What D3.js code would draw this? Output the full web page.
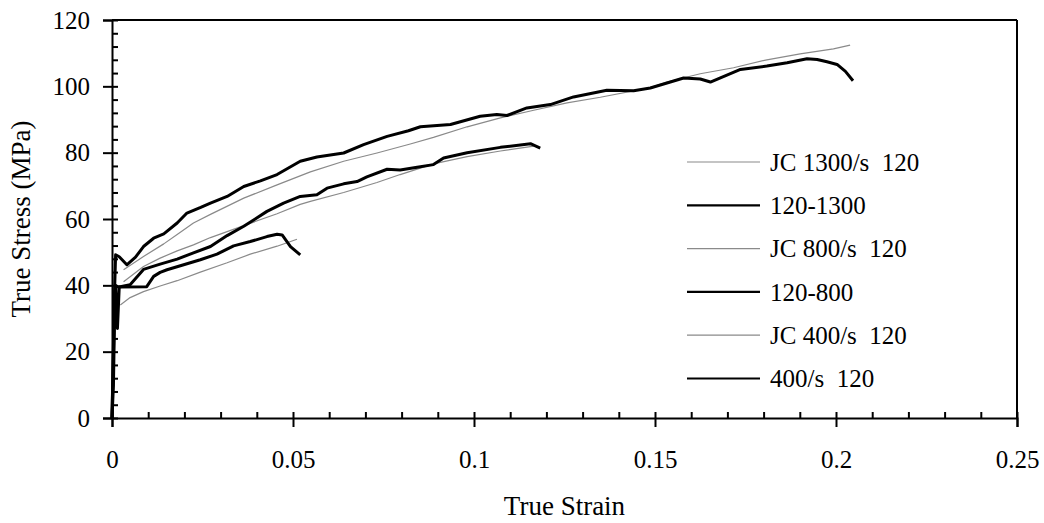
<!DOCTYPE html>
<html>
<head>
<meta charset="utf-8">
<script src="https://cdn.jsdelivr.net/npm/d3@7"></script>
<style>
  html, body { margin: 0; padding: 0; background: #fff; }
  svg text { font-family: "Liberation Serif", "Times New Roman", serif; fill: #000; }
</style>
</head>
<body>
<svg id="chart" width="1044" height="523"></svg>
<script>
// ---------- data ----------
const xTicks = [0, 0.05, 0.1, 0.15, 0.2, 0.25];
const xTickLabels = ["0", "0.05", "0.1", "0.15", "0.2", "0.25"];
const yTicks = [0, 20, 40, 60, 80, 100, 120];

const exp1300Strain = [0, 0.0004, 0.0007, 0.001, 0.002, 0.0041, 0.0065, 0.0087, 0.0115, 0.0143, 0.018, 0.0207, 0.0245, 0.0272, 0.0318, 0.0364, 0.041, 0.0456, 0.052, 0.0566, 0.064, 0.0695, 0.076, 0.0819, 0.0852, 0.0935, 0.1017, 0.1063, 0.1091, 0.1146, 0.1211, 0.1275, 0.1367, 0.1441, 0.1487, 0.1579, 0.1625, 0.1653, 0.1736, 0.1809, 0.1865, 0.192, 0.1948, 0.1975, 0.2003, 0.2026, 0.2047];
const exp1300Stress = [0, 22, 38, 49.2, 48.6, 46.2, 48.5, 51.7, 54.2, 55.5, 58.8, 61.8, 63.5, 64.8, 66.8, 69.8, 71.5, 73.4, 77.4, 78.7, 79.9, 82.4, 84.9, 86.6, 87.8, 88.5, 91, 91.5, 91.2, 93.5, 94.5, 96.8, 98.8, 98.7, 99.5, 102.5, 102.2, 101.3, 105.1, 106.1, 107.1, 108.3, 108.1, 107.4, 106.6, 104.5, 101.7];

const jc1300Strain = [0.0032, 0.0087, 0.0143, 0.018, 0.0225, 0.0272, 0.0364, 0.0456, 0.0548, 0.064, 0.0732, 0.0824, 0.0888, 0.0981, 0.1073, 0.1165, 0.1257, 0.1349, 0.1487, 0.1533, 0.1625, 0.1717, 0.1809, 0.1901, 0.1993, 0.2039];
const jc1300Stress = [44.7, 48.7, 52.5, 55.3, 58.8, 61.4, 66.3, 70.3, 74.2, 77.4, 79.9, 82.6, 84.6, 87.8, 90.5, 92.8, 95.0, 96.7, 99.6, 101.3, 103.8, 105.6, 108.0, 109.8, 111.3, 112.4];

const exp800Strain = [0, 0.0005, 0.0009, 0.0023, 0.005, 0.0087, 0.0133, 0.018, 0.0225, 0.0272, 0.0318, 0.0364, 0.0428, 0.0474, 0.052, 0.0566, 0.0594, 0.064, 0.0677, 0.0704, 0.076, 0.0796, 0.0843, 0.0888, 0.0916, 0.0981, 0.1073, 0.1156, 0.1183];
const exp800Stress = [0, 25, 39.6, 39.6, 40.2, 44.8, 46.4, 47.9, 49.8, 51.7, 55.0, 57.8, 62.3, 64.8, 66.8, 67.3, 69.3, 70.6, 71.3, 72.7, 75.0, 74.8, 75.6, 76.4, 78.4, 80.0, 81.6, 82.7, 81.4];

const jc800Strain = [0.0032, 0.0087, 0.0133, 0.018, 0.0225, 0.0272, 0.0364, 0.0456, 0.052, 0.0548, 0.064, 0.0732, 0.0796, 0.0888, 0.0981, 0.1073, 0.1165];
const jc800Stress = [41.1, 45.7, 48.2, 50.4, 52.2, 54.4, 58.0, 61.6, 64.4, 65.3, 68.0, 71.0, 73.4, 76.6, 78.8, 80.5, 82.0];

const exp400Strain = [0, 0.0004, 0.0007, 0.001, 0.0015, 0.002, 0.0096, 0.0115, 0.0133, 0.0152, 0.0198, 0.0244, 0.029, 0.0336, 0.0382, 0.0428, 0.0456, 0.047, 0.0493, 0.052];
const exp400Stress = [0, 10, 30, 40, 27, 39.5, 39.6, 42.7, 43.9, 44.7, 46.2, 47.7, 49.4, 51.9, 53.2, 54.7, 55.4, 55.2, 51.7, 49.2];

const jc400Strain = [0.0023, 0.005, 0.0087, 0.0133, 0.018, 0.0244, 0.0318, 0.0382, 0.0456, 0.0511];
const jc400Stress = [34.1, 36.3, 38.1, 39.8, 41.4, 44.0, 46.8, 49.4, 51.8, 53.9];

const seriesNames = ["JC 1300/s  120", "120-1300", "JC 800/s  120", "120-800", "JC 400/s  120", "400/s  120"];
const seriesKinds = ["model", "exp", "model", "exp", "model", "exp"];
const seriesStrain = [jc1300Strain, exp1300Strain, jc800Strain, exp800Strain, jc400Strain, exp400Strain];
const seriesStress = [jc1300Stress, exp1300Stress, jc800Stress, exp800Stress, jc400Stress, exp400Stress];

// ---------- layout ----------
const svg = d3.select("#chart");
const mLeft = 112, mRight = 1017, mTop = 20, mBottom = 418;
const x = d3.scaleLinear().domain([0, 0.25]).range([mLeft, mRight]);
const y = d3.scaleLinear().domain([0, 120]).range([mBottom, mTop]);
const FONT = 25, TITLE_FONT = 27;

const styleMap = {
  model: { stroke: "#8a8a8a", width: 1.2 },
  exp: { stroke: "#000", width: 3 }
};

// frame (top & right)
svg.append("line").attr("x1", mLeft).attr("x2", mRight).attr("y1", mTop).attr("y2", mTop)
  .attr("stroke", "#000").attr("stroke-width", 2);
svg.append("line").attr("x1", mRight).attr("x2", mRight).attr("y1", mTop).attr("y2", mBottom)
  .attr("stroke", "#000").attr("stroke-width", 2);

// series
const line = d3.line().x(d => x(d[0])).y(d => y(d[1]));
[0, 2, 4, 1, 3, 5].forEach(i => {
  const pts = seriesStrain[i].map((s, k) => [s, seriesStress[i][k]]);
  const st = styleMap[seriesKinds[i]];
  svg.append("path").datum(pts).attr("d", line)
    .attr("fill", "none").attr("stroke", st.stroke).attr("stroke-width", st.width)
    .attr("stroke-linejoin", "round").attr("stroke-linecap", "butt");
});

// y axis (outer major ticks + labels)
svg.append("g").attr("transform", `translate(${mLeft},0)`)
  .call(d3.axisLeft(y).tickValues(yTicks).tickSize(9).tickPadding(13).tickFormat(d3.format("d")));
const yMinor = d3.range(0, 121, 4);
svg.append("g").attr("transform", `translate(${mLeft},0)`)
  .call(d3.axisRight(y).tickValues(yMinor).tickSize(6).tickFormat(""))
  .call(g => g.select(".domain").remove());

// x axis
svg.append("g").attr("transform", `translate(0,${mBottom})`)
  .call(d3.axisBottom(x).tickValues(xTicks).tickSize(9).tickPadding(23)
    .tickFormat((d, i) => xTickLabels[i]));
const xMinor = d3.range(0, 26).map(v => v / 100);
svg.append("g").attr("transform", `translate(0,${mBottom})`)
  .call(d3.axisTop(x).tickValues(xMinor).tickSize(6).tickFormat(""))
  .call(g => g.select(".domain").remove());

svg.selectAll(".domain").attr("stroke", "#000").attr("stroke-width", 2);
svg.selectAll(".tick line").attr("stroke", "#000").attr("stroke-width", 2);
svg.selectAll(".tick text").style("font-size", FONT + "px").style("font-family", '"Liberation Serif", "Times New Roman", serif').attr("fill", "#000");

// axis titles
svg.append("text").attr("x", (mLeft + mRight) / 2).attr("y", 515)
  .attr("text-anchor", "middle").style("font-size", TITLE_FONT + "px").text("True Strain");
svg.append("text").attr("transform", `translate(30,${(mTop + mBottom) / 2}) rotate(-90)`)
  .attr("text-anchor", "middle").style("font-size", TITLE_FONT + "px").text("True Stress (MPa)");

// legend
const legX1 = 687, legX2 = 760, legTextX = 770, legY0 = 162, legStep = 43.3;
seriesNames.forEach((name, i) => {
  const yy = legY0 + i * legStep;
  const st = styleMap[seriesKinds[i]];
  svg.append("line").attr("x1", legX1).attr("x2", legX2).attr("y1", yy).attr("y2", yy)
    .attr("stroke", st.stroke).attr("stroke-width", seriesKinds[i] === "exp" ? 2.2 : 1.2);
  svg.append("text").attr("x", legTextX).attr("y", yy).attr("dy", "0.35em")
    .style("font-size", FONT + "px").style("white-space", "pre").text(name);
});
</script>
</body>
</html>
